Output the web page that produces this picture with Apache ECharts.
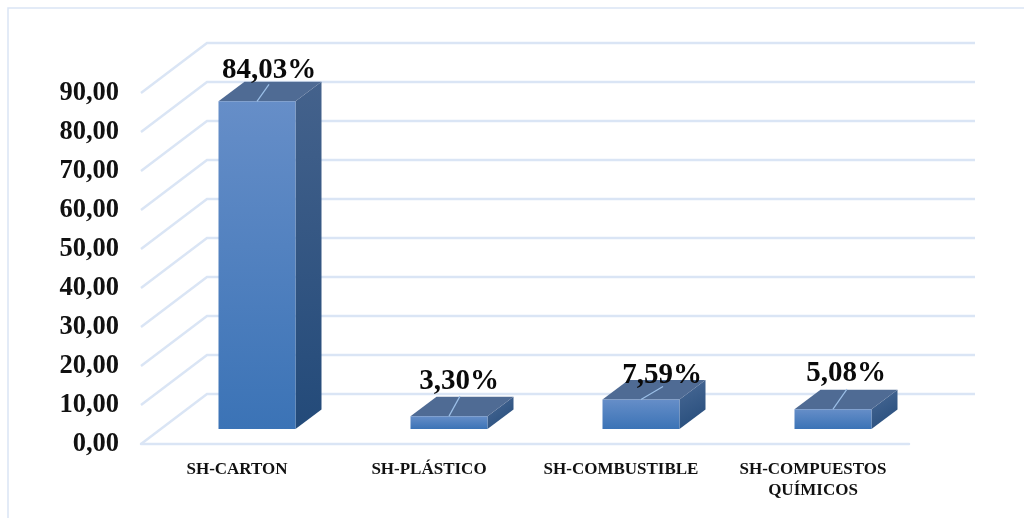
<!DOCTYPE html>
<html><head><meta charset="utf-8">
<style>html,body{margin:0;padding:0;background:#fff}#c{width:1024px;height:518px}</style>
<script src="https://cdn.jsdelivr.net/npm/echarts@6/dist/echarts.min.js"></script>
</head><body><div id="c"></div>
<script>
const categories = ['SH-CARTON', 'SH-PLÁSTICO', 'SH-COMBUSTIBLE', 'SH-COMPUESTOS\nQUÍMICOS'];
const values = [84.03, 3.30, 7.59, 5.08];
const yTicks = [0, 10, 20, 30, 40, 50, 60, 70, 80, 90];

// style / layout constants of the pseudo-3D drawing
const FONT = '"Liberation Serif", serif';
const WALL = [66, -50];       // floor depth (front plane to back wall)
const BAR_SHIFT = [20, -15];  // bar front face, relative to the front plane
const BAR_DEPTH = [26, -19.5];
const BAR_W = 77;
const LABEL_SHIFT = [[12, -31], [10, -35], [21, -24], [13, -36]];
const LEADER_END = [[12, -17], [11, -20], [22, -13], [14, -20]];
const GRID = '#dae5f5';

function grad(a, b, diag) {
  return new echarts.graphic.LinearGradient(0, 0, diag ? 1 : 0, 1, [{offset: 0, color: a}, {offset: 1, color: b}]);
}
function wallItem(params, api) {
  const cs = params.coordSys;
  const p = api.coord([0, api.value(0)]);
  const x0 = cs.x, y = p[1];
  const bx = x0 + WALL[0], by = y + WALL[1];
  return {type: 'group', silent: true, children: [
    {type: 'polyline', shape: {points: [[x0, y], [bx, by], [cs.x + cs.width + WALL[0], by]]},
     style: {stroke: GRID, lineWidth: 2.4, fill: null}}
  ]};
}
function barItem(params, api) {
  const i = api.value(0), v = api.value(1);
  const c = api.coord([i, v]), b = api.coord([i, 0]);
  const xl = c[0] + BAR_SHIFT[0] - BAR_W / 2, xr = xl + BAR_W;
  const yt = c[1] + BAR_SHIFT[1], yb = b[1] + BAR_SHIFT[1];
  const dx = BAR_DEPTH[0], dy = BAR_DEPTH[1];
  const tall = yb - yt > 100;
  const e = LEADER_END[i], ls = LABEL_SHIFT[i];
  return {type: 'group', children: [
    {type: 'polygon', shape: {points: [[xr, yt], [xr + dx, yt + dy], [xr + dx, yb + dy], [xr, yb]]},
     style: {fill: tall ? grad('#44628c', '#234a79') : grad('#4a6a96', '#234a79', true)}},
    {type: 'polygon', shape: {points: [[xl, yt], [xl + dx, yt + dy], [xr + dx, yt + dy], [xr, yt]]},
     style: {fill: '#4f6b94'}},
    {type: 'rect', shape: {x: xl, y: yt, width: BAR_W, height: yb - yt},
     style: {fill: grad('#668ec8', '#3b73b6')}},
    {type: 'line', shape: {x1: xl + BAR_W / 2, y1: yt, x2: xl + BAR_W / 2 + e[0], y2: yt + e[1]},
     style: {stroke: '#9cc0e8', lineWidth: 1.2}},
    {type: 'text', x: xl + BAR_W / 2 + ls[0], y: yt + ls[1],
     style: {text: v.toFixed(2).replace('.', ',') + '%', font: 'bold 29px ' + FONT, fill: '#0a0a0a',
             textAlign: 'center', textVerticalAlign: 'middle'}}
  ]};
}
const chart = echarts.init(document.getElementById('c'), null, {renderer: 'canvas'});
chart.setOption({
  animation: false,
  backgroundColor: '#fff',
  graphic: [{type: 'rect', silent: true, z: 0, shape: {x: 8, y: 8, width: 1100, height: 600},
             style: {fill: null, stroke: GRID, lineWidth: 1.5}}],
  grid: {left: 141, top: 93, width: 768, height: 351},
  xAxis: {type: 'category', data: categories,
    axisLine: {show: true, lineStyle: {color: GRID, width: 2.4}}, axisTick: {show: false},
    axisLabel: {interval: 0, margin: 15, color: '#111', fontFamily: FONT, fontWeight: 'bold', fontSize: 17, lineHeight: 21}},
  yAxis: {type: 'value', min: 0, max: 90, interval: 10,
    axisLine: {show: false}, axisTick: {show: false}, splitLine: {show: false},
    axisLabel: {margin: 22, color: '#111', fontFamily: FONT, fontWeight: 'bold', fontSize: 26.5, padding: [7, 0, 0, 0],
      formatter: v => v.toFixed(2).replace('.', ',')}},
  series: [
    {type: 'custom', z: 1, renderItem: wallItem, data: yTicks.map(v => [v]), encode: {y: 0}, silent: true, clip: false},
    {type: 'custom', z: 3, renderItem: barItem, data: values.map((v, i) => [i, v]), encode: {x: 0, y: 1}, silent: true, clip: false}
  ]
});
</script></body></html>
